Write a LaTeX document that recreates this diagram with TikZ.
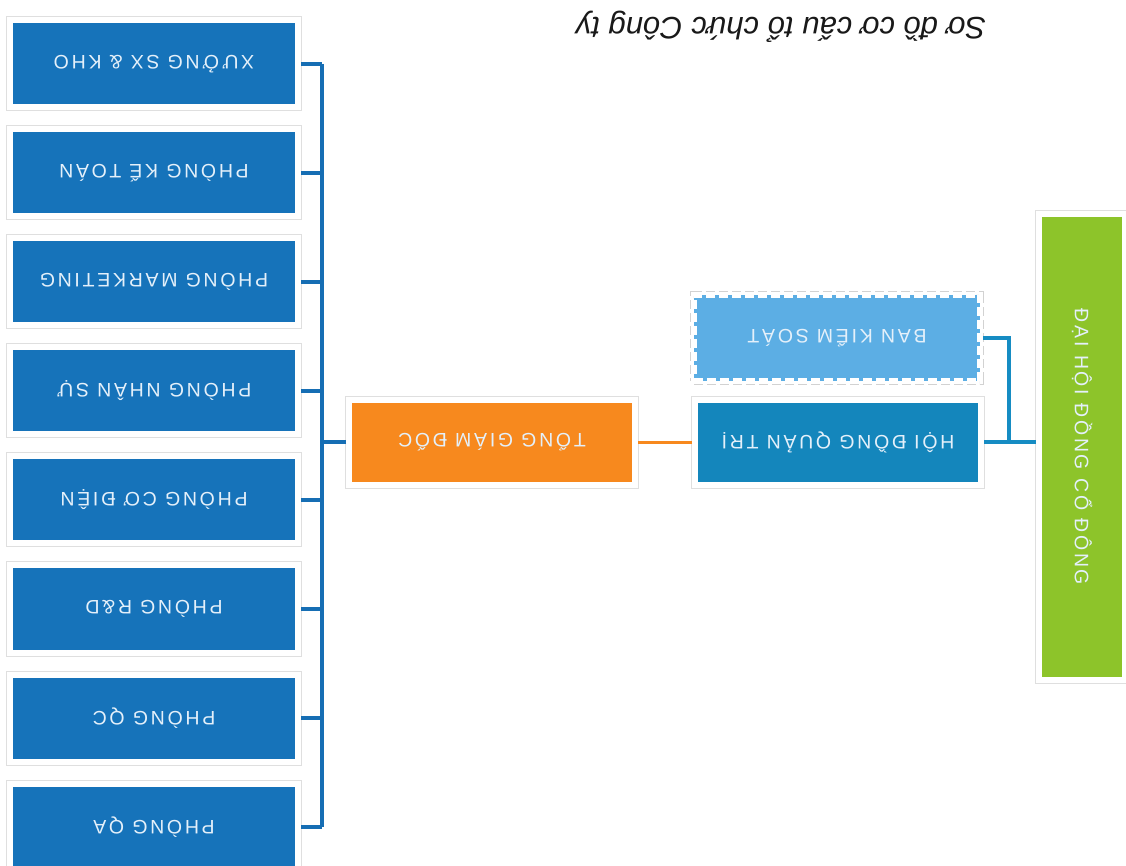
\documentclass[tikz,border=0pt]{standalone}
\usepackage{fontspec}
\setmainfont{Liberation Sans}
\newfontfamily\boxfont[LetterSpace=14]{Liberation Sans}
\usepackage{tikz}
\usetikzlibrary{positioning}

\definecolor{deptblue}{RGB}{22,115,186}
\definecolor{hdqtblue}{RGB}{20,134,188}
\definecolor{ksblue}{RGB}{92,174,228}
\definecolor{gdorange}{RGB}{247,137,30}
\definecolor{dhgreen}{RGB}{141,196,42}
\definecolor{boxtext}{RGB}{228,240,250}
\definecolor{leftline}{RGB}{22,110,180}
\definecolor{rightline}{RGB}{22,140,195}

\tikzset{
  boxframe/.style={draw=white, line width=6pt, inner sep=0pt,
    preaction={draw=gray!25, line width=8pt}},
  boxlabel/.style={text=boxtext, font=\boxfont\fontsize{19.5}{22}\selectfont, align=center},
  dept/.style={boxframe, boxlabel, fill=deptblue, minimum width=288pt, minimum height=87pt},
  gdbox/.style={boxframe, boxlabel, fill=gdorange, minimum width=286pt, minimum height=85pt},
  hdqtbox/.style={boxframe, boxlabel, fill=hdqtblue, minimum width=286pt, minimum height=85pt},
  ksbox/.style={boxlabel, fill=ksblue, draw=white, line width=6pt, inner sep=0pt,
    dash pattern=on 9pt off 4pt,
    preaction={draw=gray!35, line width=8pt, dash pattern=on 9pt off 4pt},
    minimum width=286pt, minimum height=86pt},
  dhbox/.style={boxframe, boxlabel, fill=dhgreen, minimum width=86pt, minimum height=466pt},
  busline/.style={draw=leftline, line width=4pt},
  topline/.style={draw=rightline, line width=4pt},
}

\begin{document}
\begin{tikzpicture}[x=1pt,y=1pt]
\useasboundingbox[fill=white] (0,0) rectangle (1126,865);
% the whole chart is printed upside down
\begin{scope}[rotate around={180:(563,432.5)}, transform shape]
  \node[font=\fontsize{31}{36}\selectfont\itshape, text={rgb,255:red,25;green,25;blue,25}]
    (title) at (345,27) {Sơ đồ cơ cấu tổ chức Công ty};

  \node[dhbox] (dhcd) at (44,447) {\rotatebox{90}{ĐẠI HỘI ĐỒNG CỔ ĐÔNG}};
  \node[ksbox] (bks) at (289,338) {BAN KIỂM SOÁT};
  \node[hdqtbox] (hdqt) at (288,442.5) {HỘI ĐỒNG QUẢN TRỊ};
  \node[gdbox] (tgd) at (634,442.5) {TỔNG GIÁM ĐỐC};

  \coordinate (split) at (117,442.5);
  \coordinate (bus) at (804,442.5);

  \foreach \y/\name/\txt in {64/xuong/XƯỞNG SX \& KHO, 173/ketoan/PHÒNG KẾ TOÁN,
      282/mkt/PHÒNG MARKETING, 391/nhansu/PHÒNG NHÂN SỰ, 500/codien/PHÒNG CƠ ĐIỆN,
      609/rd/PHÒNG R\&D, 718/qc/PHÒNG QC, 827/qa/PHÒNG QA}{
    \node[dept] (\name) at (972,\y) {\txt};
    \draw[busline] (\name.west) -- (\name.west -| bus);
  }

  % connectors
  \draw[busline] (xuong.west -| bus) -- (qa.west -| bus);
  \draw[busline] (tgd.east) -- (bus);
  \draw[draw=gdorange, line width=3pt] (hdqt.east) -- (tgd.west);
  \draw[topline] (hdqt.west) -- (hdqt.west -| dhcd.east);
  \draw[topline] (bks.west) -| (split);
\end{scope}
\end{tikzpicture}
\end{document}
